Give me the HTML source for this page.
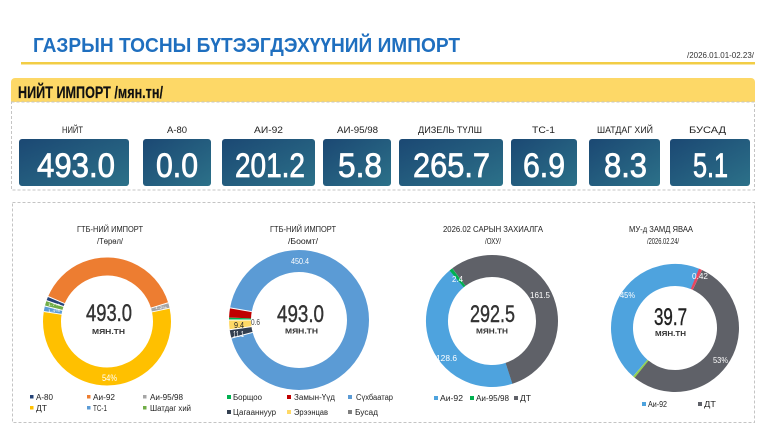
<!DOCTYPE html>
<html><head><meta charset="utf-8"><style>
html,body{margin:0;padding:0;background:#fff;}
svg{display:block;font-family:"Liberation Sans","DejaVu Sans",sans-serif;}
</style></head><body>
<svg width="768" height="432" viewBox="0 0 768 432" xmlns="http://www.w3.org/2000/svg">
<defs>
<linearGradient id="g" x1="0" y1="0" x2="1" y2="1">
<stop offset="0" stop-color="#1b4873"/><stop offset="1" stop-color="#2c7189"/>
</linearGradient>
</defs>
<rect width="768" height="432" fill="#fff"/>
<!-- title -->
<text x="33" y="52" font-size="20" font-weight="bold" fill="#1f6fbf" textLength="427" lengthAdjust="spacingAndGlyphs">ГАЗРЫН ТОСНЫ БҮТЭЭГДЭХҮҮНИЙ ИМПОРТ</text>
<text x="687" y="58" font-size="8.5" fill="#333" textLength="67" lengthAdjust="spacingAndGlyphs">/2026.01.01-02.23/</text>
<rect x="21" y="62" width="734" height="2.5" fill="#f2cd45"/>
<!-- header bar -->
<path d="M11,102 V82 a4,4 0 0 1 4,-4 H751 a4,4 0 0 1 4,4 V102 Z" fill="#fdd867"/>
<text x="18" y="98" font-size="17" font-weight="bold" fill="#111" stroke="#111" stroke-width="0.2" textLength="145" lengthAdjust="spacingAndGlyphs">НИЙТ ИМПОРТ /мян.тн/</text>
<rect x="11.5" y="102" width="743" height="88" fill="none" stroke="#c4c4c4" stroke-width="1" stroke-dasharray="3,2"/>
<!-- KPI labels -->
<g font-size="9" fill="#222">
<text x="62" y="133" textLength="21" lengthAdjust="spacingAndGlyphs">НИЙТ</text>
<text x="167" y="133" textLength="20" lengthAdjust="spacingAndGlyphs">А-80</text>
<text x="254" y="133" textLength="29" lengthAdjust="spacingAndGlyphs">АИ-92</text>
<text x="337" y="133" textLength="41" lengthAdjust="spacingAndGlyphs">АИ-95/98</text>
<text x="418" y="133" textLength="64" lengthAdjust="spacingAndGlyphs">ДИЗЕЛЬ ТҮЛШ</text>
<text x="532" y="133" textLength="23" lengthAdjust="spacingAndGlyphs">ТС-1</text>
<text x="597" y="133" textLength="56" lengthAdjust="spacingAndGlyphs">ШАТДАГ ХИЙ</text>
<text x="689" y="133" textLength="37" lengthAdjust="spacingAndGlyphs">БУСАД</text>
</g>
<!-- KPI boxes -->
<g fill="url(#g)">
<rect x="19" y="139" width="110" height="47" rx="3"/>
<rect x="143" y="139" width="68" height="47" rx="3"/>
<rect x="222" y="139" width="93" height="47" rx="3"/>
<rect x="323" y="139" width="68" height="47" rx="3"/>
<rect x="399" y="139" width="104" height="47" rx="3"/>
<rect x="511" y="139" width="66" height="47" rx="3"/>
<rect x="589" y="139" width="71" height="47" rx="3"/>
<rect x="670" y="139" width="80" height="47" rx="3"/>
</g>
<g font-size="34" fill="#fff" stroke="#fff" stroke-width="0.8">
<text x="37" y="177" textLength="78" lengthAdjust="spacingAndGlyphs">493.0</text>
<text x="156" y="177" textLength="42" lengthAdjust="spacingAndGlyphs">0.0</text>
<text x="235" y="177" textLength="70" lengthAdjust="spacingAndGlyphs">201.2</text>
<text x="338" y="177" textLength="44" lengthAdjust="spacingAndGlyphs">5.8</text>
<text x="413" y="177" textLength="77" lengthAdjust="spacingAndGlyphs">265.7</text>
<text x="523" y="177" textLength="42" lengthAdjust="spacingAndGlyphs">6.9</text>
<text x="604" y="177" textLength="43" lengthAdjust="spacingAndGlyphs">8.3</text>
<text x="693" y="177" textLength="35" lengthAdjust="spacingAndGlyphs">5.1</text>
</g>
<!-- lower panel -->
<rect x="12.5" y="202.5" width="742" height="220" fill="none" stroke="#c4c4c4" stroke-width="1" stroke-dasharray="3,2"/>

<!-- Donut 1 -->
<g font-size="8.5" fill="#222">
<text x="77" y="232" textLength="66" lengthAdjust="spacingAndGlyphs">ГТБ-НИЙ ИМПОРТ</text>
<text x="97" y="244" textLength="26" lengthAdjust="spacingAndGlyphs">/Төрөл/</text>
</g>
<g fill="none" stroke-width="18">
<circle cx="107" cy="321.5" r="55" stroke="#ed7d31" stroke-dasharray="134.39 400" transform="rotate(203 107 321.5)"/>
<circle cx="107" cy="321.5" r="55" stroke="#a5a5a5" stroke-dasharray="4.80 400" transform="rotate(-17 107 321.5)"/>
<circle cx="107" cy="321.5" r="55" stroke="#ffc000" stroke-dasharray="192.95 400" transform="rotate(-12 107 321.5)"/>
<circle cx="107" cy="321.5" r="55" stroke="#5b9bd5" stroke-dasharray="4.80 400" transform="rotate(189 107 321.5)"/>
<circle cx="107" cy="321.5" r="55" stroke="#70ad47" stroke-dasharray="4.80 400" transform="rotate(194 107 321.5)"/>
<circle cx="107" cy="321.5" r="55" stroke="#264478" stroke-dasharray="3.84 400" transform="rotate(199 107 321.5)"/>
</g>
<g stroke="#fff" stroke-width="1">
<line x1="150.99" y1="308.05" x2="168.20" y2="302.79"/>
<line x1="151.99" y1="311.94" x2="169.60" y2="308.19"/>
<line x1="61.57" y1="314.31" x2="43.79" y2="311.49"/>
<line x1="62.37" y1="310.37" x2="44.90" y2="306.02"/>
<line x1="63.51" y1="306.52" x2="46.49" y2="300.66"/>
<line x1="64.66" y1="303.53" x2="48.09" y2="296.50"/>
</g>
<g font-size="4" fill="#fff">
<text x="48" y="306" textLength="12" lengthAdjust="spacingAndGlyphs">1.7%</text>
<text x="48" y="312" textLength="12" lengthAdjust="spacingAndGlyphs">1.4%</text>
<text x="155" y="309" textLength="12" lengthAdjust="spacingAndGlyphs">1.2%</text>
</g>
<text x="102" y="381" font-size="9" fill="#fff" textLength="15" lengthAdjust="spacingAndGlyphs">54%</text>
<text x="86" y="321" font-size="24" fill="#333" stroke="#333" stroke-width="0.4" textLength="46" lengthAdjust="spacingAndGlyphs">493.0</text>
<text x="92" y="334" font-size="7.5" font-weight="bold" fill="#333" textLength="33" lengthAdjust="spacingAndGlyphs">МЯН.ТН</text>
<g font-size="8" fill="#222">
<rect x="30" y="395" width="3.5" height="3.5" fill="#264478"/><text x="36" y="400" textLength="17" lengthAdjust="spacingAndGlyphs">А-80</text>
<rect x="87" y="395" width="3.5" height="3.5" fill="#ed7d31"/><text x="93" y="400" textLength="22" lengthAdjust="spacingAndGlyphs">Аи-92</text>
<rect x="143" y="395" width="3.5" height="3.5" fill="#a5a5a5"/><text x="150" y="400" textLength="33" lengthAdjust="spacingAndGlyphs">Аи-95/98</text>
<rect x="30" y="406" width="3.5" height="3.5" fill="#ffc000"/><text x="36" y="411" textLength="11" lengthAdjust="spacingAndGlyphs">ДТ</text>
<rect x="87" y="406" width="3.5" height="3.5" fill="#5b9bd5"/><text x="93" y="411" textLength="14" lengthAdjust="spacingAndGlyphs">ТС-1</text>
<rect x="143" y="406" width="3.5" height="3.5" fill="#70ad47"/><text x="150" y="411" textLength="41" lengthAdjust="spacingAndGlyphs">Шатдаг хий</text>
</g>

<!-- Donut 2 -->
<g font-size="8.5" fill="#222">
<text x="270" y="232" textLength="66" lengthAdjust="spacingAndGlyphs">ГТБ-НИЙ ИМПОРТ</text>
<text x="288" y="244" textLength="30" lengthAdjust="spacingAndGlyphs">/Боомт/</text>
</g>
<g fill="none" stroke-width="22">
<circle cx="299" cy="320" r="59" stroke="#5b9bd5" stroke-dasharray="344.97 400" transform="rotate(190 299 320)"/>
<circle cx="299" cy="320" r="59" stroke="#333f50" stroke-dasharray="7.21 400" transform="rotate(165 299 320)"/>
<circle cx="299" cy="320" r="59" stroke="#ffd966" stroke-dasharray="8.24 400" transform="rotate(172 299 320)"/>
<circle cx="299" cy="320" r="59" stroke="#00b050" stroke-dasharray="2.06 400" transform="rotate(180 299 320)"/>
<circle cx="299" cy="320" r="59" stroke="#c00000" stroke-dasharray="8.24 400" transform="rotate(182 299 320)"/>
</g>
<g stroke="#fff" stroke-width="1">
<line x1="252.64" y1="332.42" x2="231.39" y2="338.12"/>
<line x1="251.47" y1="326.68" x2="229.68" y2="329.74"/>
<line x1="251" y1="320" x2="229" y2="320"/>
<line x1="251.73" y1="311.67" x2="230.06" y2="307.85"/>
</g>
<text x="291" y="264" font-size="8.5" fill="#fff" textLength="18" lengthAdjust="spacingAndGlyphs">450.4</text>
<text x="251" y="325" font-size="8" fill="#444" textLength="9" lengthAdjust="spacingAndGlyphs">0.6</text>
<text x="234" y="328" font-size="8" fill="#222" textLength="10" lengthAdjust="spacingAndGlyphs">9.4</text>
<text x="233" y="337" font-size="8" fill="#fff" textLength="11" lengthAdjust="spacingAndGlyphs">11.1</text>
<text x="277" y="322" font-size="24" fill="#333" stroke="#333" stroke-width="0.4" textLength="47" lengthAdjust="spacingAndGlyphs">493.0</text>
<text x="285" y="333.5" font-size="7.5" font-weight="bold" fill="#333" textLength="33" lengthAdjust="spacingAndGlyphs">МЯН.ТН</text>
<g font-size="8" fill="#222">
<rect x="227" y="395" width="4" height="4" fill="#00b050"/><text x="233" y="400" textLength="29" lengthAdjust="spacingAndGlyphs">Борщоо</text>
<rect x="287" y="395" width="4" height="4" fill="#c00000"/><text x="294" y="400" textLength="41" lengthAdjust="spacingAndGlyphs">Замын-Үүд</text>
<rect x="348" y="395" width="4" height="4" fill="#5b9bd5"/><text x="356" y="400" textLength="37" lengthAdjust="spacingAndGlyphs">Сүхбаатар</text>
<rect x="227" y="410" width="4" height="4" fill="#333f50"/><text x="233" y="415" textLength="43" lengthAdjust="spacingAndGlyphs">Цагааннуур</text>
<rect x="287" y="410" width="4" height="4" fill="#ffd966"/><text x="294" y="415" textLength="34" lengthAdjust="spacingAndGlyphs">Эрээнцав</text>
<rect x="348" y="410" width="4" height="4" fill="#7f7f7f"/><text x="355" y="415" textLength="23" lengthAdjust="spacingAndGlyphs">Бусад</text>
</g>

<!-- Donut 3 -->
<g font-size="8.5" fill="#222">
<text x="443" y="232" textLength="100" lengthAdjust="spacingAndGlyphs">2026.02 САРЫН ЗАХИАЛГА</text>
<text x="485" y="244" textLength="16" lengthAdjust="spacingAndGlyphs">/ОХУ/</text>
</g>
<g fill="none" stroke-width="22">
<circle cx="492" cy="321" r="55" stroke="#5f6168" stroke-dasharray="191.03 400" transform="rotate(233 492 321)"/>
<circle cx="492" cy="321" r="55" stroke="#4ea3de" stroke-dasharray="151.67 400" transform="rotate(72 492 321)"/>
<circle cx="492" cy="321" r="55" stroke="#00b050" stroke-dasharray="2.88 400" transform="rotate(230 492 321)"/>
</g>
<text x="452" y="282" font-size="8" fill="#fff" textLength="11" lengthAdjust="spacingAndGlyphs">2.4</text>
<text x="530" y="298" font-size="8.5" fill="#fff" textLength="20" lengthAdjust="spacingAndGlyphs">161.5</text>
<text x="436" y="361" font-size="8.5" fill="#fff" textLength="21" lengthAdjust="spacingAndGlyphs">128.6</text>
<text x="470" y="322" font-size="24" fill="#333" stroke="#333" stroke-width="0.4" textLength="45" lengthAdjust="spacingAndGlyphs">292.5</text>
<text x="476" y="333.5" font-size="7.5" font-weight="bold" fill="#333" textLength="32" lengthAdjust="spacingAndGlyphs">МЯН.ТН</text>
<g font-size="8" fill="#222">
<rect x="434" y="396" width="4" height="4" fill="#4ea3de"/><text x="440" y="401" textLength="23" lengthAdjust="spacingAndGlyphs">Аи-92</text>
<rect x="470" y="396" width="4" height="4" fill="#00b050"/><text x="476" y="401" textLength="33" lengthAdjust="spacingAndGlyphs">Аи-95/98</text>
<rect x="514" y="396" width="4" height="4" fill="#5f6168"/><text x="520" y="401" textLength="11" lengthAdjust="spacingAndGlyphs">ДТ</text>
</g>

<!-- Donut 4 -->
<g font-size="8.5" fill="#222">
<text x="629" y="232" textLength="64" lengthAdjust="spacingAndGlyphs">МУ-д ЗАМД ЯВАА</text>
<text x="647" y="244" textLength="32" lengthAdjust="spacingAndGlyphs">/2026.02.24/</text>
</g>
<g fill="none" stroke-width="22">
<circle cx="675" cy="328" r="53" stroke="#4ea3de" stroke-dasharray="148.93 400" transform="rotate(131 675 328)"/>
<circle cx="675" cy="328" r="53" stroke="#5f6168" stroke-dasharray="179.46 400" transform="rotate(-65 675 328)"/>
<circle cx="675" cy="328" r="53" stroke="#e8475f" stroke-dasharray="2.78 400" transform="rotate(-68 675 328)"/>
<circle cx="675" cy="328" r="53" stroke="#92d050" stroke-dasharray="1.85 400" transform="rotate(129 675 328)"/>
</g>
<text x="692" y="279" font-size="8" fill="#fff" textLength="16" lengthAdjust="spacingAndGlyphs">0.42</text>
<text x="620" y="298" font-size="8.5" fill="#fff" textLength="15" lengthAdjust="spacingAndGlyphs">45%</text>
<text x="713" y="363" font-size="8.5" fill="#fff" textLength="15" lengthAdjust="spacingAndGlyphs">53%</text>
<text x="654" y="325" font-size="24" fill="#222" stroke="#222" stroke-width="0.4" textLength="33" lengthAdjust="spacingAndGlyphs">39.7</text>
<text x="655" y="336" font-size="7.5" font-weight="bold" fill="#333" textLength="31" lengthAdjust="spacingAndGlyphs">МЯН.ТН</text>
<g font-size="8" fill="#222">
<rect x="642" y="402" width="4" height="4" fill="#4ea3de"/><text x="648" y="407" textLength="19" lengthAdjust="spacingAndGlyphs">Аи-92</text>
<rect x="698" y="402" width="4" height="4" fill="#5f6168"/><text x="704" y="407" textLength="12" lengthAdjust="spacingAndGlyphs">ДТ</text>
</g>
</svg>
</body></html>
